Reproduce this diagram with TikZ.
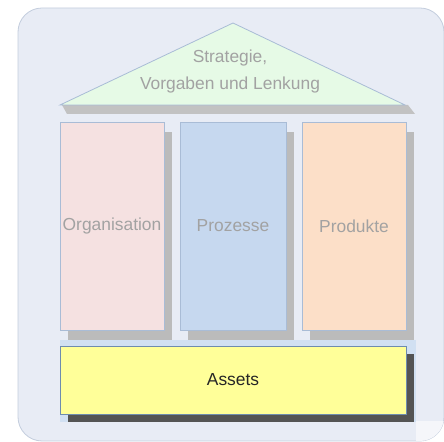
\documentclass[tikz,border=0pt]{standalone}
\usepackage{fontspec}
\setmainfont{Liberation Sans}

\definecolor{bgfill}{HTML}{E8ECF5}
\definecolor{bgline}{HTML}{C3CDDD}
\definecolor{roofgreen}{HTML}{E6FAE6}
\definecolor{pillarline}{HTML}{A9BCD6}
\definecolor{orgpink}{HTML}{F5E1E1}
\definecolor{procblue}{HTML}{C6D8EF}
\definecolor{prodpeach}{HTML}{FCDFC8}
\definecolor{assetyellow}{HTML}{FFFF99}
\definecolor{assetline}{HTML}{6E8CAE}
\definecolor{shadowgray}{HTML}{BBBBBB}
\definecolor{labelgray}{HTML}{A2A2A2}

\pgfdeclarelayer{back}
\pgfdeclarelayer{shade}
\pgfsetlayers{back,shade,main}

\tikzset{
  pillar/.style={rectangle,draw=pillarline,minimum height=104pt,inner sep=0pt,
    text=labelgray,font=\fontsize{8.7}{10.5}\selectfont},
  base/.style={rectangle,draw=assetline,fill=assetyellow,minimum width=173pt,minimum height=34pt,
    inner sep=0pt,text=black!85,font=\fontsize{8.7}{10.5}\selectfont},
  rooftext/.style={align=center,text=labelgray,font=\fontsize{8.7}{13.5}\selectfont}
}

\begin{document}
\begin{tikzpicture}[x=0.5pt,y=-0.5pt]
            \useasboundingbox (0,0) rectangle (444,442);
            \begin{pgfonlayer}{back}
              \draw [fill=bgfill,draw=bgline,rounded corners=12pt] (18,8) rectangle (444,441);
              \clip [rounded corners=12pt] (18,8) rectangle (444,441);
              \fill [white!55!bgfill] (416,421) rectangle (444,442);
            \end{pgfonlayer}

            % roof
            \coordinate (apex) at (233,23);
            \coordinate (eaveL) at (60,105);
            \coordinate (eaveR) at (405,105);
            \fill [shadowgray!90] (62,105) -- (408,105) -- (415,114) -- (67,114) -- cycle;
            \draw [fill=roofgreen,draw=pillarline] (apex) -- (eaveL) -- (eaveR) -- cycle;
            \draw (230,72) node (roof) [rooftext] {Strategie,\\Vorgaben und Lenkung};

            % pillars
            \draw (112,226) node (org) [pillar,fill=orgpink,minimum width=52pt] {Organisation};
            \draw (233,226) node (proc) [pillar,fill=procblue,minimum width=53pt] {Prozesse};
            \draw (354,226) node (prod) [pillar,fill=prodpeach,minimum width=52pt] {Produkte};

            % base
            \draw (233,380) node (assets) [base] {Assets};

            \begin{pgfonlayer}{shade}
              \foreach \p in {org,proc,prod}
                \fill [shadowgray] ([shift={(8,10)}]\p.north west) rectangle ([shift={(8,10)}]\p.south east);
              \fill [procblue!80] (60,340) rectangle (416,422);
              \fill [black!67] ([shift={(8,8)}]assets.north west) rectangle ([shift={(8,8)}]assets.south east);
            \end{pgfonlayer}
        \end{tikzpicture}
\end{document}
